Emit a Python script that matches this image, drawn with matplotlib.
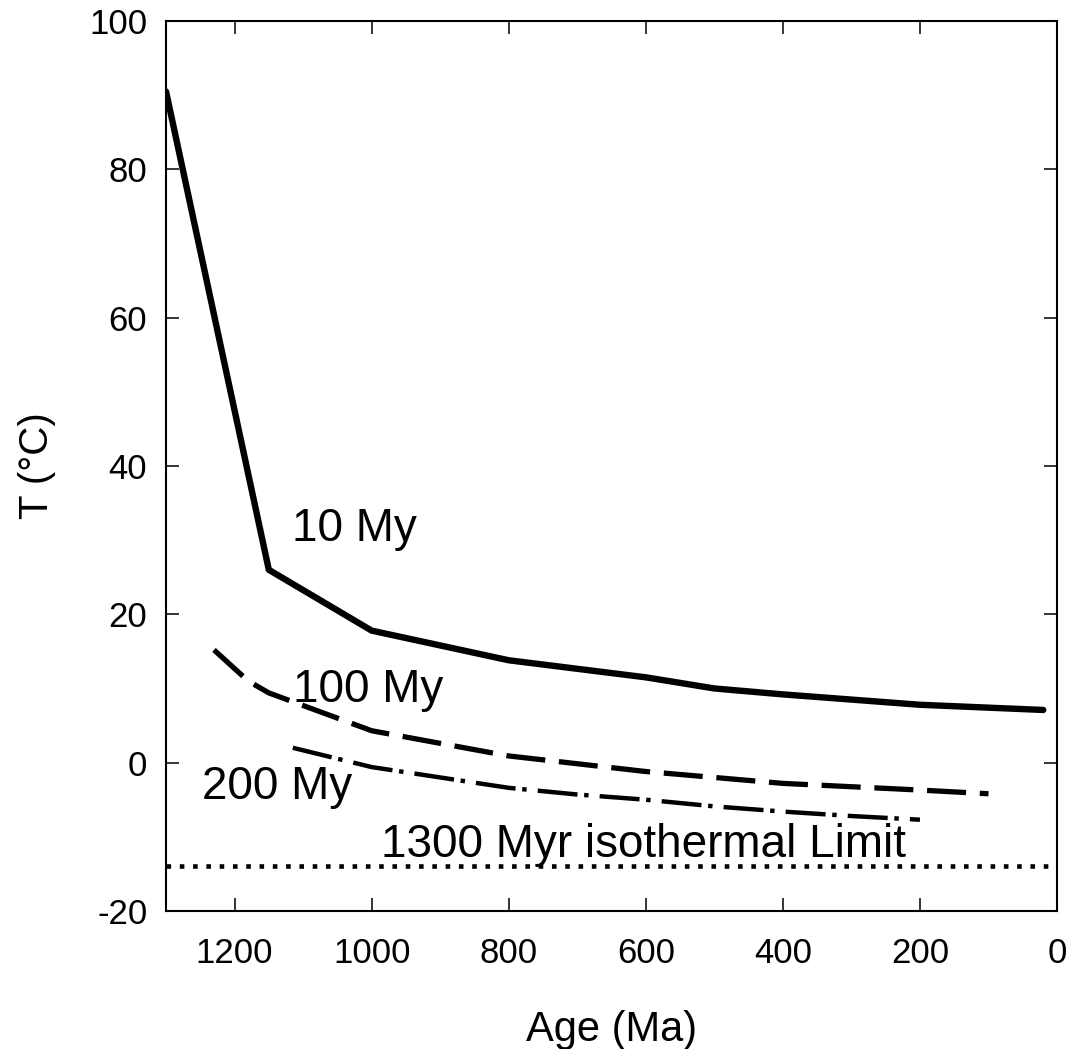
import matplotlib
matplotlib.use("Agg")
import matplotlib.pyplot as plt

plt.rcParams['font.family'] = ['Liberation Sans', 'DejaVu Sans']
plt.rcParams['axes.unicode_minus'] = False

# Data
age_10 = [1300, 1150, 1000, 800, 600, 500, 400, 200, 20]
t_10 = [90.5, 26.0, 17.8, 13.8, 11.5, 10.0, 9.2, 7.8, 7.1]

age_100 = [1230, 1180, 1150, 1000, 800, 600, 400, 200, 100]
t_100 = [15.2, 11.0, 9.4, 4.3, 0.9, -1.2, -2.8, -3.7, -4.2]

age_200 = [1115, 1000, 800, 700, 600, 500, 400, 300, 200]
t_200 = [2.0, -0.6, -3.4, -4.3, -5.0, -5.9, -6.6, -7.2, -7.7]

age_limit = [1300, 0]
t_limit = [-14.0, -14.0]

x_ticks = [1200, 1000, 800, 600, 400, 200, 0]
y_ticks = [-20, 0, 20, 40, 60, 80, 100]

labels = ["10 My", "100 My", "200 My", "1300 Myr isothermal Limit"]
label_age = [1116, 1115, 1247, 986]
label_t = [29.9, 8.2, -4.9, -12.7]

fig = plt.figure(figsize=(10.69, 10.49), dpi=100)
ax = fig.add_axes([0.1553, 0.1316, 0.9888 - 0.1553, 0.98 - 0.1316])

ax.plot(age_10, t_10, color='black', lw=4.6, solid_joinstyle='round', solid_capstyle='round')
ax.plot(age_100, t_100, color='black', lw=3.8, dashes=(7.4, 2.6))
ax.plot(age_200, t_200, color='black', lw=3.2, dashes=(9, 1.5, 1, 2.5))
ax.plot(age_limit, t_limit, color='black', lw=3.3, dashes=(1, 1.9))

for s, a, t in zip(labels, label_age, label_t):
    ax.text(a, t, s, fontsize=33, ha='left', va='baseline')

ax.set_xlim(1300, 0)
ax.set_ylim(-20, 100)
ax.set_xticks(x_ticks)
ax.set_yticks(y_ticks)
ax.tick_params(direction='in', length=9.4, width=1.1, top=True, right=True,
               labelsize=25)
ax.tick_params(axis='y', pad=13.5)
ax.tick_params(axis='x', pad=18.5)
for sp in ax.spines.values():
    sp.set_linewidth(1.5)

ax.set_xlabel("Age (Ma)", fontsize=30, labelpad=29)
ax.set_ylabel("T (°C)", fontsize=29, labelpad=24)

fig.savefig("out.png", dpi=100)
